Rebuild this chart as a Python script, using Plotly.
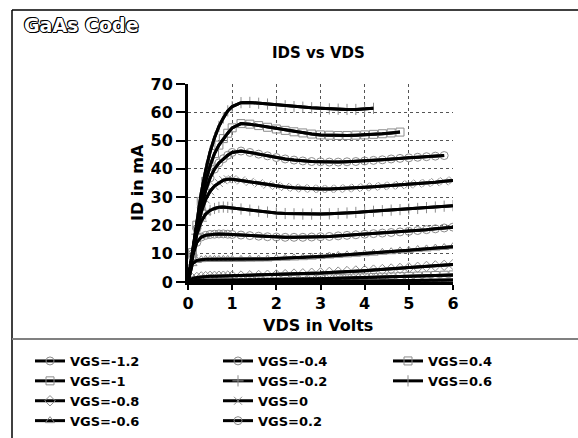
import plotly.graph_objects as go

# Drain-source sweep (V)
vds = [0.0, 0.1, 0.2, 0.3, 0.4, 0.5, 0.6, 0.7, 0.8, 0.9, 1.0,
       1.2, 1.4, 1.6, 1.8, 2.0, 2.2, 2.4, 2.6, 2.8, 3.0,
       3.2, 3.4, 3.6, 3.8, 4.0, 4.2, 4.4, 4.6, 4.8, 5.0,
       5.2, 5.4, 5.6, 5.8, 6.0]

# Gate-source voltages (V)
vgs = [-1.2, -1, -0.8, -0.6, -0.4, -0.2, 0, 0.2, 0.4, 0.6]

# Drain current (mA) per gate bias
id_m12 = [0, 0.05, 0.08, 0.1, 0.1, 0.1, 0.1, 0.1, 0.1, 0.1, 0.1,
          0.12, 0.13, 0.14, 0.15, 0.16, 0.18, 0.2, 0.21, 0.23, 0.25,
          0.27, 0.29, 0.31, 0.33, 0.35, 0.38, 0.4, 0.43, 0.46, 0.49,
          0.52, 0.55, 0.59, 0.63, 0.67]
id_m10 = [0, 0.4, 0.5, 0.6, 0.62, 0.64, 0.65, 0.66, 0.67, 0.68, 0.69,
          0.7, 0.75, 0.8, 0.85, 0.9, 0.95, 1.0, 1.05, 1.1, 1.15,
          1.2, 1.3, 1.35, 1.45, 1.5, 1.6, 1.7, 1.8, 1.9, 2.0,
          2.1, 2.2, 2.3, 2.4, 2.5]
id_m08 = [0, 1.2, 1.6, 1.8, 1.9, 2.0, 2.0, 2.05, 2.05, 2.1, 2.1,
          2.1, 2.2, 2.3, 2.4, 2.5, 2.6, 2.8, 2.9, 3.1, 3.2,
          3.4, 3.5, 3.7, 3.9, 4.0, 4.2, 4.4, 4.6, 4.8, 5.0,
          5.2, 5.5, 5.7, 5.9, 6.2]
id_m06 = [0, 6.5, 7.6, 7.9, 8.0, 8.0, 8.0, 8.0, 8.0, 8.0, 8.0,
          8.0, 8.05, 8.1, 8.15, 8.3, 8.4, 8.5, 8.6, 8.8, 9.0,
          9.2, 9.4, 9.6, 9.8, 10.0, 10.2, 10.5, 10.7, 11.0, 11.2,
          11.5, 11.7, 12.0, 12.2, 12.5]
id_m04 = [0, 9.0, 14.0, 15.9, 16.5, 16.8, 16.9, 17.0, 17.0, 16.9, 16.8,
          16.6, 16.4, 16.2, 16.0, 15.9, 15.8, 15.8, 15.8, 15.9, 16.0,
          16.1, 16.3, 16.5, 16.7, 16.9, 17.1, 17.3, 17.5, 17.7, 17.9,
          18.2, 18.5, 18.8, 19.1, 19.4]
id_m02 = [0, 9.5, 16.9, 21.5, 24.0, 25.3, 26.0, 26.4, 26.5, 26.4, 26.2,
          25.8, 25.4, 25.0, 24.7, 24.4, 24.2, 24.1, 24.0, 24.0, 24.0,
          24.1, 24.2, 24.4, 24.6, 24.8, 25.0, 25.2, 25.4, 25.6, 25.8,
          26.0, 26.3, 26.5, 26.8, 27.0]
id_p00 = [0, 9.8, 18.2, 24.7, 29.2, 32.1, 33.9, 35.0, 36.0, 36.3, 36.3,
          35.9, 35.4, 34.9, 34.4, 34.0, 33.6, 33.3, 33.1, 33.0, 32.9,
          32.9, 33.0, 33.1, 33.3, 33.5, 33.7, 33.9, 34.1, 34.3, 34.5,
          34.8, 35.0, 35.3, 35.6, 35.9]
id_p02 = [0, 9.9, 18.8, 26.4, 32.4, 36.8, 39.9, 42.1, 43.6, 44.8, 45.8,
          46.3, 45.8, 45.2, 44.6, 44.0, 43.5, 43.1, 42.8, 42.6, 42.5,
          42.4, 42.4, 42.5, 42.6, 42.8, 43.0, 43.2, 43.5, 43.7, 43.9,
          44.1, 44.3, 44.5, 44.7]
id_p04 = [0, 10.4, 20.1, 28.5, 35.6, 41.1, 45.4, 48.4, 50.7, 52.6, 54.5,
          56.0, 55.8, 55.3, 54.7, 54.1, 53.6, 53.1, 52.7, 52.3, 52.0,
          51.9, 51.8, 51.8, 51.9, 52.0, 52.2, 52.4, 52.7, 53.0]
id_p06 = [0, 11.0, 22.0, 31.5, 39.5, 46.0, 51.0, 55.0, 58.0, 60.5, 62.0,
          63.4, 63.5, 63.2, 62.9, 62.6, 62.3, 62.0, 61.8, 61.6, 61.4,
          61.2, 61.1, 61.0, 61.0, 61.1, 61.4]

currents = [id_m12, id_m10, id_m08, id_m06, id_m04, id_m02, id_p00, id_p02, id_p04, id_p06]
symbols = ["circle-open", "square-open", "diamond-open", "triangle-up-open",
           "circle-open", "cross-thin-open", "x-thin-open", "circle-open",
           "square-open", "line-ns-open"]
legend_ids = ["legend"] * 4 + ["legend2"] * 4 + ["legend3"] * 2

FONT = "DejaVu Sans"
W, H = 578, 438
L, R, T, B = 188, 125, 84, 156
PW, PH = W - L - R, H - T - B


def px_x(px):
    return (px - L) / PW


def px_y(py):
    return (H - B - py) / PH


fig = go.Figure()

# measured points (grey markers) with legend entries
for v, cur, sym, lg in zip(vgs, currents, symbols, legend_ids):
    fig.add_trace(go.Scatter(
        x=vds[:len(cur)], y=cur, mode="lines+markers",
        name=f"VGS={v:g}", legend=lg,
        line=dict(color="black", width=3),
        marker=dict(symbol=sym, size=8, color="#8c8c8c",
                    line=dict(color="#8c8c8c", width=1)),
    ))

# model curves on top
for v, cur in zip(vgs, currents):
    fig.add_trace(go.Scatter(
        x=vds[:len(cur)], y=cur, mode="lines", showlegend=False,
        line=dict(color="black", width=3), hoverinfo="skip",
    ))

axis_font = dict(family=FONT, size=16, color="black", weight=700)

fig.update_xaxes(
    range=[0, 6], dtick=1, showline=True, linewidth=3, linecolor="black",
    ticks="outside", ticklen=5, tickwidth=2, tickcolor="black",
    showgrid=True, gridcolor="#555555", griddash="dot", gridwidth=1,
    zeroline=False, tickfont=axis_font, ticklabelstandoff=0,
)
fig.update_yaxes(
    range=[0, 70], dtick=10, showline=True, linewidth=3, linecolor="black",
    ticks="outside", ticklen=9, tickwidth=2, tickcolor="black",
    showgrid=True, gridcolor="#555555", griddash="dot", gridwidth=1,
    zeroline=False, tickfont=axis_font,
)

legend_font = dict(family=FONT, size=13, color="black", weight=700)
legend_common = dict(font=legend_font, bgcolor="rgba(0,0,0,0)", orientation="v",
                     xanchor="left", yanchor="top", itemwidth=30,
                     tracegroupgap=0, itemclick=False)

fig.update_layout(
    width=W, height=H,
    margin=dict(l=L, r=R, t=T, b=B, pad=0, autoexpand=False),
    paper_bgcolor="white", plot_bgcolor="white",
    font=dict(family=FONT, color="black"),
    legend=dict(x=px_x(30), y=px_y(346), **legend_common),
    legend2=dict(x=px_x(218), y=px_y(346), **legend_common),
    legend3=dict(x=px_x(388), y=px_y(346), **legend_common),
    annotations=[
        dict(text="IDS vs VDS", x=px_x(318), y=px_y(53), xref="paper", yref="paper",
             showarrow=False, xanchor="center", yanchor="middle",
             font=dict(family=FONT, size=15, color="black", weight=700)),
        dict(text="VDS in Volts", x=px_x(318), y=px_y(325), xref="paper", yref="paper",
             showarrow=False, xanchor="center", yanchor="middle",
             font=dict(family=FONT, size=16, color="black", weight=700)),
        dict(text="ID in mA", x=px_x(137), y=px_y(183), xref="paper", yref="paper",
             showarrow=False, xanchor="center", yanchor="middle", textangle=-90,
             font=dict(family=FONT, size=16, color="black", weight=700)),
        dict(text="GaAs Code", x=px_x(22), y=px_y(25), xref="paper", yref="paper",
             showarrow=False, xanchor="left", yanchor="middle",
             font=dict(family=FONT, size=19, color="white", weight=700,
                       shadow="1px 0 0 #000, -1px 0 0 #000, 0 1px 0 #000, 0 -1px 0 #000, "
                              "1px 1px 0 #000, -1px -1px 0 #000")),
    ],
    shapes=[
        # outer frame: left and top edges
        dict(type="line", xref="paper", yref="paper", x0=px_x(12), x1=px_x(12),
             y0=px_y(10), y1=px_y(H), line=dict(color="black", width=1.5)),
        dict(type="line", xref="paper", yref="paper", x0=px_x(12), x1=px_x(W),
             y0=px_y(10), y1=px_y(10), line=dict(color="black", width=1.5)),
        # divider above the legend block
        dict(type="line", xref="paper", yref="paper", x0=px_x(12), x1=px_x(W),
             y0=px_y(339), y1=px_y(339), line=dict(color="#808080", width=2)),
    ],
)

fig.write_html("out.html")
